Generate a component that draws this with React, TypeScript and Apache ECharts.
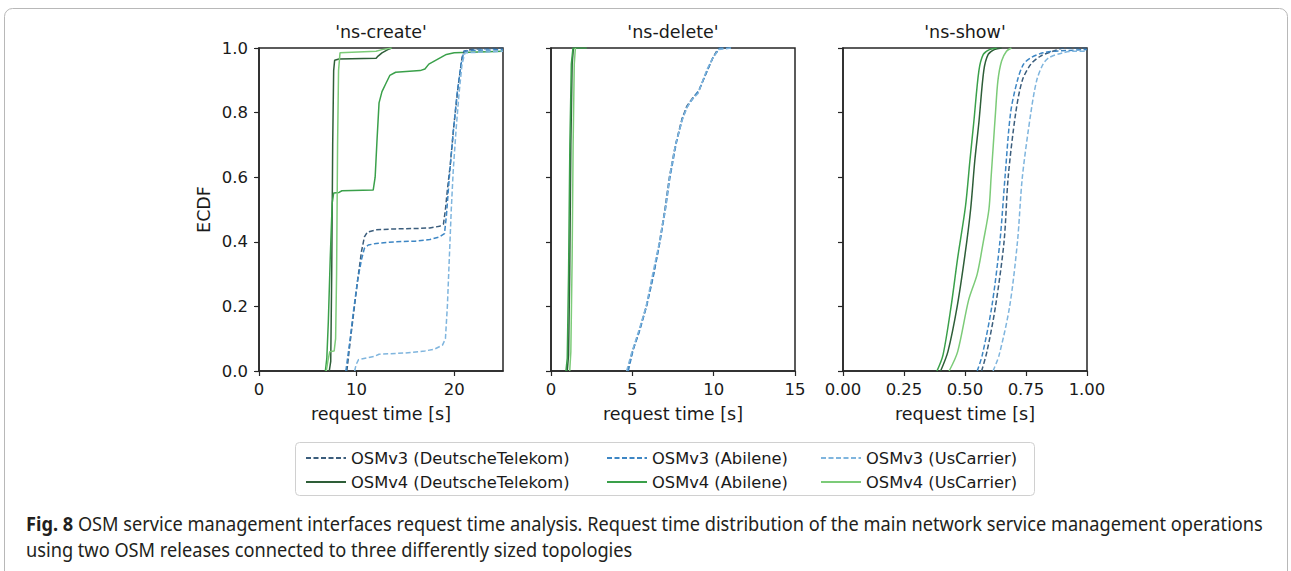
import React, { useEffect, useRef } from 'react';
import * as echarts from 'echarts';

const SERIES_NAMES = [
  'OSMv3 (DeutscheTelekom)',
  'OSMv3 (Abilene)',
  'OSMv3 (UsCarrier)',
  'OSMv4 (DeutscheTelekom)',
  'OSMv4 (Abilene)',
  'OSMv4 (UsCarrier)',
];
const SERIES_COLORS = ['#3b5d7c', '#3d86c4', '#7fb5de', '#2e5e38', '#3aa04a', '#7ccb78'];
const PANEL_TITLES = ["'ns-create'", "'ns-delete'", "'ns-show'"];
const Y_TICKS = [0, 0.2, 0.4, 0.6, 0.8, 1.0];
const X_TICKS_CREATE = [0, 10, 20];
const X_TICKS_DELETE = [0, 5, 10, 15];
const X_TICKS_SHOW = [0, 0.25, 0.5, 0.75, 1.0];

// ns-create
const createV3DT = [[9.0,0],[9.3,0.08],[9.7,0.18],[10.1,0.28],[10.5,0.37],[10.8,0.415],[11.1,0.43],[12,0.437],[14,0.44],[16,0.441],[17.5,0.443],[18.5,0.448],[18.9,0.455],[19.1,0.5],[19.3,0.56],[19.6,0.64],[20.0,0.77],[20.4,0.88],[20.8,0.97],[21.0,0.99],[22,0.997],[25,1.0]];
const createV3Abi = [[8.9,0],[9.3,0.09],[9.7,0.19],[10.1,0.28],[10.5,0.345],[10.8,0.38],[11.2,0.39],[12,0.395],[14,0.4],[16,0.402],[17.5,0.407],[18.5,0.415],[19,0.425],[19.2,0.48],[19.5,0.6],[19.9,0.74],[20.3,0.86],[20.7,0.95],[21.0,0.99],[22,0.993],[25,0.995]];
const createV3US = [[9.8,0],[9.95,0.02],[10.2,0.035],[11,0.04],[11.8,0.045],[12.3,0.052],[15,0.056],[17,0.062],[18,0.068],[18.8,0.08],[19.1,0.1],[19.3,0.2],[19.5,0.35],[19.7,0.5],[19.9,0.62],[20.2,0.75],[20.5,0.86],[20.8,0.95],[21.1,0.985],[25,0.99]];
const createV4DT = [[7.2,0],[7.35,0.03],[7.45,0.3],[7.55,0.7],[7.65,0.93],[7.75,0.962],[8.2,0.966],[12,0.968],[12.2,0.975],[12.6,0.985],[13.2,0.995],[13.6,1.0]];
const createV4Abi = [[6.8,0],[6.95,0.04],[7.1,0.15],[7.3,0.35],[7.5,0.52],[7.65,0.551],[8.2,0.553],[8.5,0.558],[11.7,0.56],[11.9,0.6],[12.1,0.72],[12.3,0.83],[12.6,0.865],[13.0,0.89],[13.4,0.915],[14,0.925],[16.5,0.93],[17,0.935],[17.4,0.95],[18,0.96],[18.6,0.97],[19.2,0.98],[20,0.985],[25,0.99]];
const createV4US = [[6.9,0],[7.05,0.03],[7.25,0.06],[7.7,0.062],[7.85,0.1],[7.95,0.3],[8.05,0.7],[8.15,0.93],[8.3,0.985],[12,0.99],[12.6,0.995],[13.6,1.0]];

// ns-delete
const deleteV3DT = [[4.7,0],[5.0,0.06],[5.4,0.12],[5.86,0.2],[6.3,0.3],[6.68,0.4],[7.0,0.5],[7.28,0.6],[7.65,0.7],[8.05,0.78],[8.35,0.82],[8.7,0.845],[9.07,0.865],[9.35,0.9],[9.6,0.93],[9.95,0.97],[10.3,1.0],[11.0,1.0]];
const deleteV3Abi = [[4.75,0],[5.05,0.065],[5.45,0.125],[5.9,0.205],[6.3,0.295],[6.7,0.4],[7.05,0.505],[7.3,0.595],[7.7,0.705],[8.1,0.785],[8.4,0.82],[8.75,0.845],[9.1,0.87],[9.4,0.905],[9.65,0.935],[10.0,0.975],[10.4,1.0],[11.1,1.0]];
const deleteV3US = [[4.65,0],[4.95,0.055],[5.4,0.125],[5.85,0.2],[6.25,0.3],[6.65,0.395],[7.0,0.495],[7.3,0.605],[7.65,0.7],[8.05,0.775],[8.35,0.815],[8.65,0.84],[9.05,0.86],[9.3,0.895],[9.6,0.935],[9.9,0.965],[10.3,0.995],[11.1,1.0]];
const deleteV4DT = [[1.0,0],[1.08,0.05],[1.15,0.3],[1.22,0.7],[1.3,0.95],[1.38,1.0]];
const deleteV4Abi = [[0.92,0],[1.0,0.04],[1.08,0.3],[1.16,0.7],[1.25,0.95],[1.35,1.0],[2.2,1.0]];
const deleteV4US = [[1.15,0],[1.22,0.06],[1.3,0.35],[1.36,0.7],[1.43,0.95],[1.5,1.0]];

// ns-show
const showV3DT = [[0.568,0],[0.59,0.06],[0.625,0.2],[0.66,0.4],[0.677,0.6],[0.708,0.8],[0.735,0.9],[0.77,0.95],[0.81,0.975],[0.86,0.99],[0.91,1.0],[1.0,1.0]];
const showV3Abi = [[0.55,0],[0.571,0.05],[0.61,0.2],[0.643,0.4],[0.664,0.6],[0.687,0.8],[0.715,0.9],[0.74,0.95],[0.77,0.97],[0.82,0.985],[0.87,0.99],[1.0,0.995]];
const showV3US = [[0.615,0],[0.64,0.05],[0.683,0.2],[0.715,0.4],[0.735,0.6],[0.77,0.8],[0.794,0.9],[0.82,0.95],[0.844,0.97],[0.9,0.985],[0.95,0.99],[1.0,0.99]];
const showV4DT = [[0.4,0],[0.43,0.06],[0.468,0.2],[0.5,0.36],[0.523,0.5],[0.54,0.65],[0.557,0.77],[0.577,0.93],[0.595,0.98],[0.62,0.995],[0.65,1.0]];
const showV4Abi = [[0.385,0],[0.41,0.05],[0.443,0.2],[0.47,0.35],[0.502,0.51],[0.52,0.65],[0.536,0.77],[0.557,0.93],[0.575,0.98],[0.6,0.995],[0.63,1.0]];
const showV4US = [[0.435,0],[0.47,0.06],[0.515,0.22],[0.55,0.3],[0.575,0.4],[0.598,0.5],[0.607,0.6],[0.616,0.7],[0.625,0.8],[0.635,0.9],[0.65,0.96],[0.67,0.99],[0.69,1.0]];

const PANEL_DATA = [
  [createV3DT, createV3Abi, createV3US, createV4DT, createV4Abi, createV4US],
  [deleteV3DT, deleteV3Abi, deleteV3US, deleteV4DT, deleteV4Abi, deleteV4US],
  [showV3DT, showV3Abi, showV3US, showV4DT, showV4Abi, showV4US],
];

const CAPTION_BOLD = 'Fig. 8';
const CAPTION_LINE1 = ' OSM service management interfaces request time analysis. Request time distribution of the main network service management operations';
const CAPTION_LINE2 = 'using two OSM releases connected to three differently sized topologies';

const FONT = "'DejaVu Sans', sans-serif";
const CAP_FONT = "'Noto Sans', sans-serif";
const INK = '#262626';

export default function App() {
  const ref = useRef<HTMLDivElement>(null);
  useEffect(() => {
    document.body.style.margin = '0';
    const chart = echarts.init(ref.current as HTMLDivElement, null, { renderer: 'svg' });
    const gridLefts = [259, 551, 843];
    const xRanges = [[0, 25], [0, 15], [0, 1]];
    const xTicks = [X_TICKS_CREATE, X_TICKS_DELETE, X_TICKS_SHOW];

    const grids = gridLefts.map((l) => ({
      left: l, top: 48, width: 244, height: 323,
      show: true, borderColor: INK, borderWidth: 1.5, backgroundColor: 'transparent',
    }));

    const xAxes = [0, 1, 2].map((i) => ({
      type: 'value', gridIndex: i, min: xRanges[i][0], max: xRanges[i][1],
      axisLine: { show: true, onZero: false, lineStyle: { color: INK, width: 1.5 } },
      axisTick: { show: true, length: 5, customValues: xTicks[i], lineStyle: { color: INK, width: 1.2 } },
      axisLabel: {
        customValues: xTicks[i], color: '#1a1a1a', fontSize: 16.5, fontFamily: FONT, margin: 10,
        formatter: (v: number) => (i === 2 ? v.toFixed(2) : String(v)),
      },
      splitLine: { show: false },
      name: 'request time [s]', nameLocation: 'middle', nameGap: 34,
      nameTextStyle: { fontSize: 17.5, color: '#1a1a1a', fontFamily: FONT },
    }));

    const yAxes = [0, 1, 2].map((i) => ({
      type: 'value', gridIndex: i, min: 0, max: 1,
      axisLine: { show: true, onZero: false, lineStyle: { color: INK, width: 1.5 } },
      axisTick: { show: true, length: 5, customValues: Y_TICKS, lineStyle: { color: INK, width: 1.2 } },
      axisLabel: {
        show: i === 0, customValues: Y_TICKS, color: '#1a1a1a', fontSize: 16.5, fontFamily: FONT, margin: 11,
        formatter: (v: number) => v.toFixed(1),
      },
      splitLine: { show: false },
      name: i === 0 ? 'ECDF' : '', nameLocation: 'middle', nameGap: 46,
      nameTextStyle: { fontSize: 17.5, color: '#1a1a1a', fontFamily: FONT },
    }));

    const series: any[] = [];
    PANEL_DATA.forEach((panel, p) => {
      panel.forEach((data, k) => {
        series.push({
          type: 'line', name: SERIES_NAMES[k], xAxisIndex: p, yAxisIndex: p,
          data, showSymbol: false, symbol: 'none', smooth: p === 2 ? 0.3 : false,
          z: k < 3 ? 3 : 2,
          lineStyle: {
            color: SERIES_COLORS[k], width: 1.5,
            type: k < 3 ? [5, 2.5] : 'solid',
          },
          itemStyle: { color: SERIES_COLORS[k] },
        });
      });
    });

    const legendCols = [[0, 3], [1, 4], [2, 5]];
    const legendLefts = [305, 606, 820];
    const legends = legendCols.map((c, i) => ({
      left: legendLefts[i], top: 450, orient: 'vertical', itemGap: 8, padding: 0,
      itemWidth: 40, itemHeight: 18,
      itemStyle: { opacity: 0, borderWidth: 0 },
      textStyle: { fontSize: 16.3, color: '#1a1a1a', fontFamily: FONT },
      data: c.map((k) => SERIES_NAMES[k]),
    }));

    const titleCenters = [381, 673, 965];
    const graphics: any[] = [
      {
        type: 'rect', shape: { x: 4.5, y: 8.5, width: 1283, height: 640, r: 8 },
        style: { fill: 'none', stroke: '#b8b8b8', lineWidth: 1 }, silent: true,
      },
      {
        type: 'rect', shape: { x: 295.5, y: 442.5, width: 739, height: 53, r: 4 },
        style: { fill: '#fff', stroke: '#d0d0d0', lineWidth: 1 }, silent: true, z: -1,
      },
      ...PANEL_TITLES.map((t, i) => ({
        type: 'text', x: titleCenters[i], y: 32,
        style: { text: t, fill: '#1a1a1a', font: `17.5px ${FONT}`, align: 'center', verticalAlign: 'middle' },
      })),
      {
        type: 'text', x: 26, y: 524, scaleX: 0.91,
        style: {
          text: `{b|${CAPTION_BOLD}}${CAPTION_LINE1}`,
          fill: '#231f20', font: `20px ${CAP_FONT}`, verticalAlign: 'middle',
          rich: { b: { fontWeight: 'bold', fontSize: 20, fontFamily: CAP_FONT, fill: '#231f20' } },
        },
      },
      {
        type: 'text', x: 26, y: 550, scaleX: 0.91,
        style: { text: CAPTION_LINE2, fill: '#231f20', font: `20px ${CAP_FONT}`, verticalAlign: 'middle' },
      },
    ];

    chart.setOption({
      animation: false,
      backgroundColor: '#ffffff',
      grid: grids,
      xAxis: xAxes,
      yAxis: yAxes,
      legend: legends,
      series,
      graphic: graphics,
    });
    return () => chart.dispose();
  }, []);
  return <div ref={ref} style={{ width: 1291, height: 571 }} />;
}
